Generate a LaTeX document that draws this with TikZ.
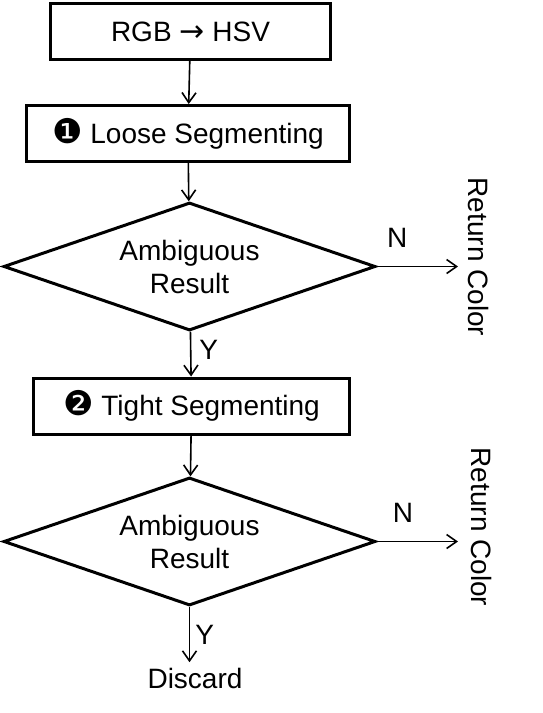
\documentclass[tikz,border=0pt]{standalone}
\usepackage{fontspec}
\setmainfont{Liberation Sans}
\newfontfamily\dingfont{DejaVu Sans}
\usetikzlibrary{shapes.geometric,arrows.meta}
\newcommand{\stepno}[1]{{\dingfont\fontsize{34}{34}\selectfont #1}}

\begin{document}
\begin{tikzpicture}[x=1pt, y=-1pt, -{Straight Barb[length=10pt,width=14pt]}, line width=1.6pt]
\useasboundingbox (0,0) rectangle (543,713);
\tikzstyle{every node} = [font=\fontsize{28}{33}\selectfont, line width=3pt]
\tikzstyle{box} = [draw, rectangle, minimum height=56pt]
\tikzstyle{test} = [draw, diamond, aspect=2.9, inner sep=0pt, minimum width=372pt, minimum height=128pt, align=center]
\node[box, minimum width=280pt] (1) at (190.5,31.5) {RGB {\dingfont\fontsize{30}{30}\selectfont →} HSV};
\node[box, minimum width=323pt] (2) at (188,133.5) {\stepno{❶} Loose Segmenting};
\node[test] (3) at (189.5,266.5) {Ambiguous\\Result};
\node[box, minimum width=316pt] (4) at (191.5,406) {\stepno{❷} Tight Segmenting};
\node[test] (5) at (189.5,541.5) {Ambiguous\\Result};
\node[rotate=-90] (6) at (479,257) {Return Color};
\node[rotate=-90] (7) at (482,527) {Return Color};
\node[inner sep=4pt] (8) at (195,678) {Discard};
\coordinate (r1) at (458,266.5);
\coordinate (r2) at (458,541.5);
\tikzstyle{every node} = [font=\fontsize{28}{33}\selectfont, inner sep=0pt]
\draw (1) -- (2);
\draw (2) -- (3);
\draw (3) -- (r1) node[pos=0.25, above=18pt] (n1) {N};
\draw (3) -- (4) node[pos=0.4, right=8pt] (y1) {Y};
\draw (4) -- (5);
\draw (5) -- (r2) node[pos=0.32, above=18pt] (n2) {N};
\draw (5) -- (5 |- 8.north) node[midway, right=5pt] (y2) {Y};
\end{tikzpicture}
\end{document}
